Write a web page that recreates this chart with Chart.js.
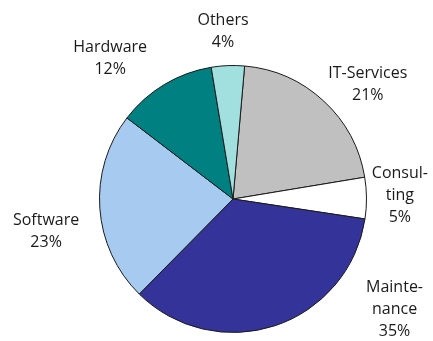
<!DOCTYPE html>
<html>
<head>
<meta charset="utf-8">
<script src="https://cdn.jsdelivr.net/npm/chart.js@4/dist/chart.umd.min.js"></script>
<style>
  html, body { margin: 0; padding: 0; background: #fff; }
  #wrap { width: 433px; height: 341px; }
</style>
</head>
<body>
<div id="wrap"><canvas id="c" width="433" height="341"></canvas></div>
<script>
// Share of revenue by segment, in percent
const categories = ['IT-Services', 'Consulting', 'Maintenance', 'Software', 'Hardware', 'Others'];
const labelLines = [['IT-Services'], ['Consul-', 'ting'], ['Mainte-', 'nance'], ['Software'], ['Hardware'], ['Others']];
const shares = [21, 5, 35, 23, 12, 4];
const sliceColors = ['#c0c0c0', '#ffffff', '#333399', '#a6caf0', '#008080', '#a2e0e0'];

// Label block centres, as offsets from the pie centre in units of the radius
const labelOffsets = [[1.01, -0.86], [1.25, -0.03], [1.21, 0.83], [-1.40, 0.24], [-0.92, -1.056], [-0.075, -1.255]];

const outsideLabels = {
  id: 'outsideLabels',
  afterDatasetsDraw(chart) {
    const ctx = chart.ctx;
    const meta = chart.getDatasetMeta(0);
    ctx.save();
    ctx.font = '16px "Open Sans", sans-serif';
    ctx.fillStyle = '#1a1a1a';
    ctx.textAlign = 'center';
    ctx.textBaseline = 'middle';
    const lh = 22;
    meta.data.forEach((arc, i) => {
      const r = arc.outerRadius;
      const cx = arc.x + labelOffsets[i][0] * r;
      const cy = arc.y + labelOffsets[i][1] * r;
      const lines = labelLines[i].concat([shares[i] + '%']);
      const top = cy - (lines.length - 1) * lh / 2;
      lines.forEach((t, k) => ctx.fillText(t, cx, top + k * lh));
    });
    ctx.restore();
  }
};

new Chart(document.getElementById('c'), {
  type: 'pie',
  data: {
    labels: categories,
    datasets: [{
      data: shares,
      backgroundColor: sliceColors,
      borderColor: '#1a1a1a',
      borderWidth: 1
    }]
  },
  options: {
    responsive: false,
    animation: false,
    rotation: 5,
    layout: { padding: { left: 99, right: 66, top: 65, bottom: 8 } },
    plugins: {
      legend: { display: false },
      tooltip: { enabled: false }
    }
  },
  plugins: [outsideLabels]
});
</script>
</body>
</html>
